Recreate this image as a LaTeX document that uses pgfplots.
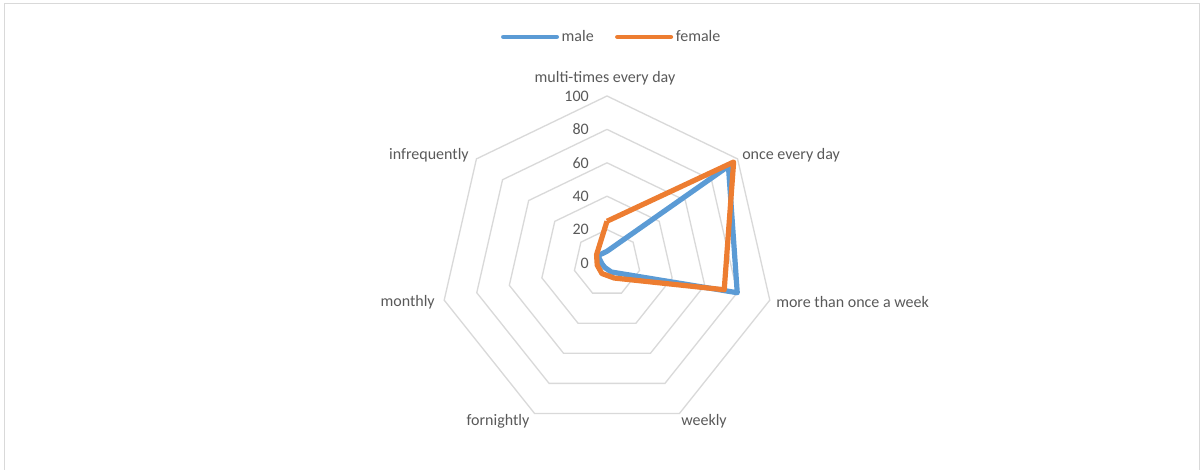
\documentclass[border=0pt]{standalone}
\usepackage{fontspec}
\setmainfont{Carlito}
\usepackage{pgfplots}
\usepgfplotslibrary{polar}
\pgfplotsset{compat=1.18}

\definecolor{maleblue}{HTML}{5B9BD5}
\definecolor{femaleorange}{HTML}{ED7D31}
\definecolor{gridgray}{HTML}{D9D9D9}
\definecolor{labelgray}{HTML}{595959}

% Category angles (clockwise from the top):
% multi-times every day 90, once every day 38.571, more than once a week 347.143,
% weekly 295.714, fornightly 244.286, monthly 192.857, infrequently 141.429

\begin{document}
\begin{tikzpicture}[x=0.75pt, y=0.75pt, font=\fontsize{12}{14}\selectfont, text=labelgray]
\path[use as bounding box] (0,0) rectangle (1203,470);
\draw[gridgray, line width=0.75pt] (4,0) -- (4,466) -- (1199,466) -- (1199,0);

\begin{polaraxis}[
  at={(455.25pt,155.25pt)}, anchor=center,
  scale only axis, width=250.5pt, height=250.5pt,
  xmin=0, xmax=360, ymin=0, ymax=100,
  hide axis, clip=false,
  legend columns=2,
  legend style={at={(0.515,1.177)}, anchor=center, draw=none, fill=none,
    font=\fontsize{12}{14}\selectfont, text=labelgray, inner sep=0pt,
    /tikz/every even column/.append style={column sep=14pt}},
  legend image code/.code={\draw[#1, line width=3.5pt, line cap=round] (0pt,0pt) -- (40pt,0pt);},
]
% heptagonal grid rings
\addplot[gridgray, line width=1pt, forget plot] coordinates
  {(90,20) (38.571,20) (347.143,20) (295.714,20) (244.286,20) (192.857,20) (141.429,20) (90,20)};
\addplot[gridgray, line width=1pt, forget plot] coordinates
  {(90,40) (38.571,40) (347.143,40) (295.714,40) (244.286,40) (192.857,40) (141.429,40) (90,40)};
\addplot[gridgray, line width=1pt, forget plot] coordinates
  {(90,60) (38.571,60) (347.143,60) (295.714,60) (244.286,60) (192.857,60) (141.429,60) (90,60)};
\addplot[gridgray, line width=1pt, forget plot] coordinates
  {(90,80) (38.571,80) (347.143,80) (295.714,80) (244.286,80) (192.857,80) (141.429,80) (90,80)};
\addplot[gridgray, line width=1pt, forget plot] coordinates
  {(90,100) (38.571,100) (347.143,100) (295.714,100) (244.286,100) (192.857,100) (141.429,100) (90,100)};

% male
\addplot[maleblue, line width=3.9pt, line join=round, no marks] coordinates
  {(90,7) (38.571,93) (347.143,80) (295.714,6) (244.286,3) (192.857,3) (141.429,7) (90,7)};
\addlegendentry{male}
% female
\addplot[femaleorange, line width=3.9pt, line join=round, no marks] coordinates
  {(90,25) (38.571,97) (347.143,72) (295.714,10) (244.286,7) (192.857,6) (141.429,8) (90,25)};
\addlegendentry{female}
\end{polaraxis}

% radial scale
\foreach \v in {0,20,...,100}
  \node[anchor=east, inner sep=0pt] at (589,{207+1.67*\v}) {\v};

% category labels
\node[inner sep=0pt] at (605,392) {multi-times every day};
\node[anchor=west, inner sep=0pt] at (742,315) {once every day};
\node[anchor=west, inner sep=0pt] at (776,168) {more than once a week};
\node[inner sep=0pt] at (704,49) {weekly};
\node[inner sep=0pt] at (498,49) {fornightly};
\node[anchor=east, inner sep=0pt] at (435,168) {monthly};
\node[anchor=east, inner sep=0pt] at (469,315) {infrequently};
\end{tikzpicture}
\end{document}
